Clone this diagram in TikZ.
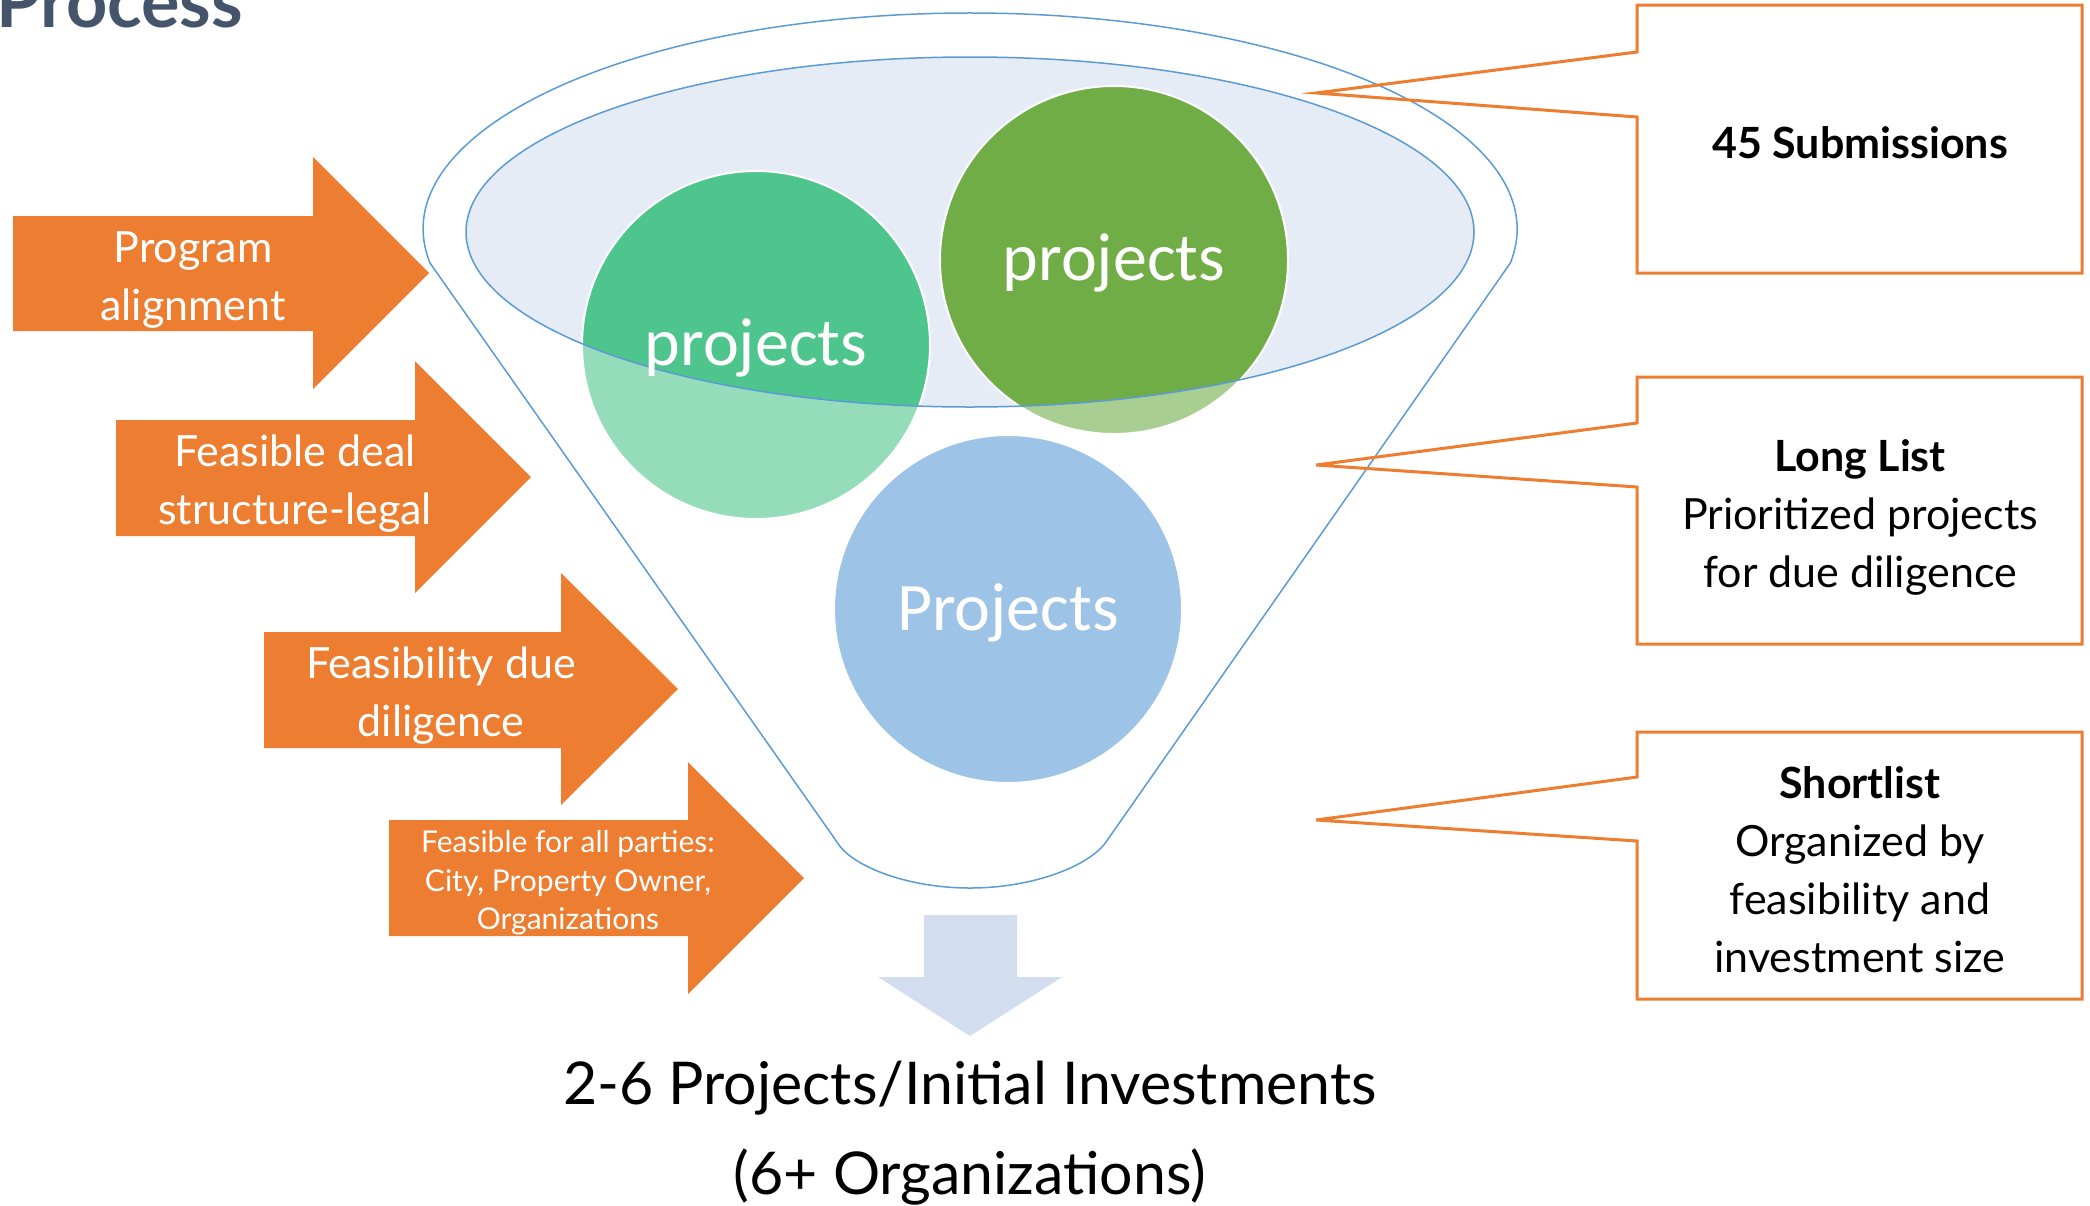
\documentclass[tikz,border=0pt]{standalone}
\usepackage{fontspec}
\setmainfont{Lato}
\newfontfamily\calfont{Carlito}
\definecolor{orng}{HTML}{ED7D31}
\definecolor{fblue}{HTML}{5B9BD5}
\definecolor{ellfill}{HTML}{E5ECF6}
\definecolor{gA}{HTML}{4EC58D}
\definecolor{gAl}{HTML}{95DCBB}
\definecolor{gB}{HTML}{70AD47}
\definecolor{gBl}{HTML}{A9CE91}
\definecolor{bC}{HTML}{9DC3E6}
\definecolor{darr}{HTML}{D2DEEF}
\definecolor{ttl}{HTML}{44546A}
\begin{document}
\begin{tikzpicture}[x=1pt,y=-1pt,
  arrtxt/.style={text=white, align=center, inner sep=0pt, font=\fontsize{43}{58}\selectfont},
  smalltxt/.style={text=white, align=center, inner sep=0pt, font=\fontsize{30}{38.6}\selectfont},
  calltxt/.style={text=black, align=center, inner sep=0pt, font=\fontsize{43}{58}\selectfont},
  circtxt/.style={text=white, inner sep=0pt, font=\calfont\fontsize{68}{80}\selectfont},
  callout/.style={draw=orng, line width=3pt, line join=miter},
  arrowfill/.style={fill=orng},
  funnelline/.style={draw=fblue, line width=1.5pt}
]
\useasboundingbox (0,0) rectangle (2090,1205);
\clip (0,0) rectangle (2090,1205);

% inner ellipse fill
\fill[ellfill] (970,232) ellipse [x radius=504pt, y radius=175pt];
% circles (light = part below the opening)
\fill[gAl] (756,345) circle [radius=174pt];
\fill[gBl] (1114,260) circle [radius=174pt];
\fill[bC] (1008,609) circle [radius=174pt];
\begin{scope}
  \clip (970,232) ellipse [x radius=504pt, y radius=175pt];
  \fill[gA] (756,345) circle [radius=174pt];
  \fill[gB] (1114,260) circle [radius=174pt];
\end{scope}
\draw[white, line width=2pt] (756,345) circle [radius=174pt];
\draw[white, line width=2pt] (1114,260) circle [radius=174pt];
\draw[white, line width=2pt] (1008,609) circle [radius=174pt];
% inner ellipse stroke
\draw[funnelline] (970,232) ellipse [x radius=504pt, y radius=175pt];
% funnel outline
\draw[funnelline] (837,842) -- (430,263)
  arc[start angle=189.06, end angle=-9.06, x radius=547pt, y radius=216pt]
  -- (1106,842) .. controls (1090,865) and (1035,888) .. (970,888)
  .. controls (905,888) and (850,865) .. (837,842);

% circle texts
\node[circtxt] (c1) at (756,348) {projects};
\node[circtxt] (c2) at (1114,263) {projects};
\node[circtxt] (c3) at (1008,613) {Projects};

% orange arrows
\fill[arrowfill] (13,216) -- (313,216) -- (313,157) -- (429,273) -- (313,389) -- (313,331) -- (13,331) -- cycle;
\fill[arrowfill] (116,420) -- (415,420) -- (415,361) -- (531,477) -- (415,593) -- (415,536) -- (116,536) -- cycle;
\fill[arrowfill] (264,632) -- (561,632) -- (561,573) -- (678,689) -- (561,805) -- (561,748) -- (264,748) -- cycle;
\fill[arrowfill] (389,820) -- (688,820) -- (688,762) -- (804,878) -- (688,994) -- (688,936) -- (389,936) -- cycle;
\node[arrtxt] (a1) at (193,280) {Program\\alignment};
\node[arrtxt] (a2) at (295,484) {Feasible deal\\structure-legal};
\node[arrtxt] (a3) at (441,696) {Feasibility due\\diligence};
\node[smalltxt] (a4) at (568,883) {Feasible for all parties:\\City, Property Owner,\\Organizations};

% callouts
\draw[callout] (1637,5) -- (2082,5) -- (2082,273) -- (1637,273) -- (1637,117) -- (1316,93) -- (1637,52) -- cycle;
\draw[callout] (1637,377) -- (2082,377) -- (2082,644) -- (1637,644) -- (1637,487) -- (1316,465) -- (1637,423) -- cycle;
\draw[callout] (1637,732) -- (2082,732) -- (2082,999) -- (1637,999) -- (1637,841) -- (1316,820) -- (1637,777) -- cycle;
\node[calltxt] (b1) at (1860,143) {\bfseries 45 Submissions};
\node[calltxt] (b2) at (1860,517) {\bfseries Long List\\Prioritized projects\\for due diligence};
\node[calltxt] (b3) at (1860,870) {\bfseries Shortlist\\Organized by\\feasibility and\\investment size};

% down arrow
\fill[darr] (924,915) -- (1017,915) -- (1017,977) -- (1062,977) -- (970,1036) -- (878,977) -- (924,977) -- cycle;
\node[text=black, align=center, inner sep=0pt, font=\fontsize{59}{90}\selectfont] (res) at (970,1133) {2-6 Projects/Initial Investments\\(6+ Organizations)};

% title
\node[anchor=base west, inner sep=0pt, text=ttl, font=\bfseries\fontsize{72}{80}\selectfont] (title) at (-4,27) {Process};
\end{tikzpicture}
\end{document}
